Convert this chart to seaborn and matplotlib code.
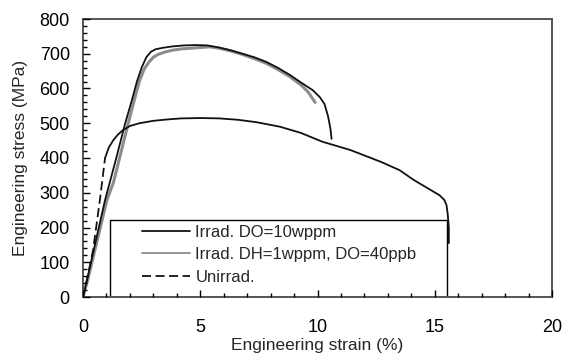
import numpy as np
import pandas as pd
import matplotlib
matplotlib.use("Agg")
import matplotlib.pyplot as plt
import seaborn as sns
from matplotlib.ticker import MultipleLocator
from matplotlib.lines import Line2D
from matplotlib.patches import Rectangle

# ---- data ----
do10_strain = [0.0, 0.17, 0.94, 1.4, 1.8, 2.1, 2.3, 2.5, 2.7, 2.9, 3.1, 3.4, 3.8, 4.3, 4.8, 5.3, 5.8, 6.3, 6.8, 7.3, 7.8, 8.3, 8.8, 9.3, 9.8, 10.1, 10.3, 10.45, 10.55, 10.6]
do10_stress = [0.0, 49, 279, 395, 500, 570, 620, 660, 690, 706, 713, 717, 721, 724, 725, 724, 718, 710, 700, 690, 677, 660, 640, 617, 595, 575, 555, 520, 485, 455]

dh1_strain = [0.0, 0.2, 1.02, 1.3, 1.93, 2.2, 2.4, 2.6, 2.8, 3.0, 3.2, 3.5, 3.8, 4.2, 4.6, 5.0, 5.4, 5.8, 6.3, 6.8, 7.3, 7.8, 8.3, 8.8, 9.3, 9.6, 9.9]
dh1_stress = [0.0, 49, 279, 330, 500, 570, 620, 655, 675, 690, 698, 705, 710, 714, 716, 718, 720, 716, 708, 698, 686, 673, 655, 635, 610, 590, 560]

unirr_strain = [0.0, 0.2, 0.43, 0.72, 0.94, 1.1, 1.3, 1.5, 1.7, 2.0, 2.4, 3.0, 3.6, 4.2, 5.0, 5.8, 6.6, 7.4, 8.4, 9.3, 10.2, 11.4, 12.7, 13.5, 14.1, 14.7, 15.2, 15.4, 15.5, 15.55, 15.6, 15.6]
unirr_stress = [0.0, 60, 135, 279, 400, 430, 452, 468, 480, 492, 500, 507, 511, 514, 515, 514, 510, 503, 490, 472, 447, 423, 389, 365, 337, 313, 293, 280, 265, 240, 200, 155]

labels = ["Irrad. DO=10wppm", "Irrad. DH=1wppm, DO=40ppb", "Unirrad."]
x_ticks = [0, 5, 10, 15, 20]
y_ticks = [0, 100, 200, 300, 400, 500, 600, 700, 800]

sns.set_style("white")
plt.rcParams["font.family"] = ["Liberation Sans", "DejaVu Sans"]

fig = plt.figure(figsize=(5.74, 3.54), dpi=100)
ax = fig.add_axes([83 / 574, 1 - 297 / 354, (552 - 83) / 574, (297 - 19) / 354])
ax.set_axisbelow(False)

df_dh = pd.DataFrame({"strain": dh1_strain, "stress": dh1_stress})
df_do = pd.DataFrame({"strain": do10_strain, "stress": do10_stress})
df_un = pd.DataFrame({"strain": unirr_strain, "stress": unirr_stress})

sns.lineplot(data=df_dh, x="strain", y="stress", sort=False, ax=ax, color="#8c8c8c", lw=2.2,
             estimator=None, zorder=1.5)
sns.lineplot(data=df_do, x="strain", y="stress", sort=False, ax=ax, color="#111111", lw=1.3,
             estimator=None, zorder=1.6)
# unirradiated: elastic part dashed, rest dense data appearing solid
sns.lineplot(data=df_un.iloc[:5], x="strain", y="stress", sort=False, ax=ax, color="#111111", lw=1.3,
             estimator=None, linestyle=(0, (5, 2.5)), zorder=1.6)
sns.lineplot(data=df_un.iloc[4:], x="strain", y="stress", sort=False, ax=ax, color="#111111", lw=1.3,
             estimator=None, zorder=1.6)

ax.set_xlim(0, 20)
ax.set_ylim(0, 800)
ax.set_xticks(x_ticks)
ax.set_yticks(y_ticks)
ax.xaxis.set_minor_locator(MultipleLocator(1))
ax.yaxis.set_minor_locator(MultipleLocator(20))
ax.tick_params(axis="both", which="both", bottom=True, left=True, top=False, right=False)
ax.tick_params(axis="both", which="major", direction="in", length=5, width=1, colors="black",
               labelsize=13, labelcolor="black")
ax.tick_params(axis="both", which="minor", direction="in", length=3, width=1, colors="black")
ax.tick_params(axis="x", which="major", pad=16)
ax.tick_params(axis="y", which="major", pad=9.5)
for s in ax.spines.values():
    s.set_visible(True)
    s.set_color("#555555")
    s.set_linewidth(1.4)

ax.set_xlabel("Engineering strain (%)", fontsize=12.5, labelpad=1)
ax.set_ylabel("Engineering stress (MPa)", fontsize=12.5, labelpad=8)

# legend frame box (above the curves, below the ticks)
W, H = 469.0, 278.0
ax.add_patch(Rectangle(((110 - 83) / W, 0.0), (447 - 110) / W, (297 - 220) / H,
                       transform=ax.transAxes, facecolor="white", edgecolor="black",
                       lw=1.0, zorder=2.0))

handles = [Line2D([], [], color="#111111", lw=1.3),
           Line2D([], [], color="#8c8c8c", lw=1.3),
           Line2D([], [], color="#111111", lw=1.3, linestyle=(0, (5, 2.5)))]
leg = ax.legend(handles, labels, loc="upper left",
                bbox_to_anchor=((142 - 83) / W, (297 - 224.5) / H),
                fontsize=12, frameon=False, handlelength=2.9,
                borderpad=0.0, labelspacing=0.45, handletextpad=0.3, borderaxespad=0.0)
leg.set_zorder(5)

fig.savefig("out.png", dpi=100)
